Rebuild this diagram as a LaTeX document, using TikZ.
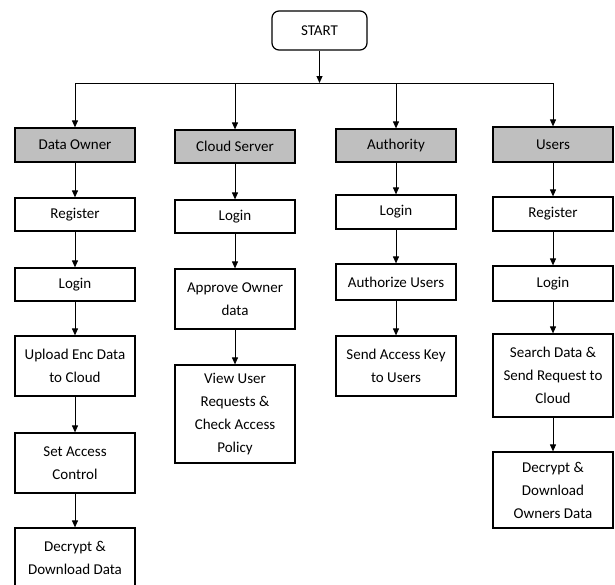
\documentclass[tikz,border=0pt]{standalone}
\usepackage{fontspec}
\setmainfont{Carlito}
\usepackage{tikz}
\usetikzlibrary{arrows.meta}

\begin{document}
\begin{tikzpicture}[x=1pt,y=1pt,>={Triangle[length=7pt,width=6pt]},
  box/.style={draw,line width=1.2pt,minimum width=120pt,inner xsep=1pt,inner ysep=2pt,
    align=center,font=\fontsize{15}{23}\selectfont},
  head/.style={box,fill=gray!50},
  flow/.style={->,line width=1pt}]
\useasboundingbox (0,0) rectangle (615,-584);
\node[box,rounded corners=7pt,minimum width=95pt,minimum height=39pt] (start) at (319.5,-30.5) {START};
% headers
\node[head,minimum height=34pt] (owner) at (75,-145) {Data Owner};
\node[head,minimum height=33pt] (cloud) at (235,-146.5) {Cloud Server};
\node[head,minimum height=33pt] (auth) at (396,-145.5) {Authority};
\node[head,minimum height=35pt] (users) at (553,-144.5) {Users};
% data owner
\node[box,minimum height=33pt] (oreg) at (75,-214.5) {Register};
\node[box,minimum height=33pt] (ologin) at (75,-284.5) {Login};
\node[box,minimum height=60pt] (oupload) at (75,-366) {Upload Enc Data\\to Cloud};
\node[box,minimum height=60pt] (oset) at (75,-463) {Set Access\\Control};
\node[box,minimum height=60pt] (odec) at (75,-558) {Decrypt \&\\Download Data};
% cloud server
\node[box,minimum height=33pt] (clogin) at (235,-216.5) {Login};
\node[box,minimum height=60pt] (capprove) at (235,-299) {Approve Owner\\data};
\node[box,minimum height=98pt] (cview) at (235,-414) {View User\\Requests \&\\Check Access\\Policy};
% authority
\node[box,minimum height=34pt] (alogin) at (396,-212) {Login};
\node[box,minimum height=36pt] (aauth) at (396,-282) {Authorize Users};
\node[box,minimum height=60pt] (akey) at (396,-366) {Send Access Key\\to Users};
% users
\node[box,minimum height=34pt] (ureg) at (553,-214) {Register};
\node[box,minimum height=35pt] (ulogin) at (553,-283.5) {Login};
\node[box,minimum height=83pt] (usearch) at (553,-375.5) {Search Data \&\\Send Request to\\Cloud};
\node[box,minimum height=76pt] (udec) at (553,-490) {Decrypt \&\\Download\\Owners Data};
% split from start
\coordinate (bar) at (319.5,-83);
\draw[flow] (start) -- (bar);
\draw[line width=1pt] (owner.north |- bar) -- (users.north |- bar);
\foreach \h in {owner,cloud,auth,users}
  \draw[flow] (\h.north |- bar) -- (\h.north);
\foreach \a/\b in {owner/oreg,oreg/ologin,ologin/oupload,oupload/oset,oset/odec,
    cloud/clogin,clogin/capprove,capprove/cview,
    auth/alogin,alogin/aauth,aauth/akey,
    users/ureg,ureg/ulogin,ulogin/usearch,usearch/udec}
  \draw[flow] (\a) -- (\b);
\end{tikzpicture}
\end{document}
